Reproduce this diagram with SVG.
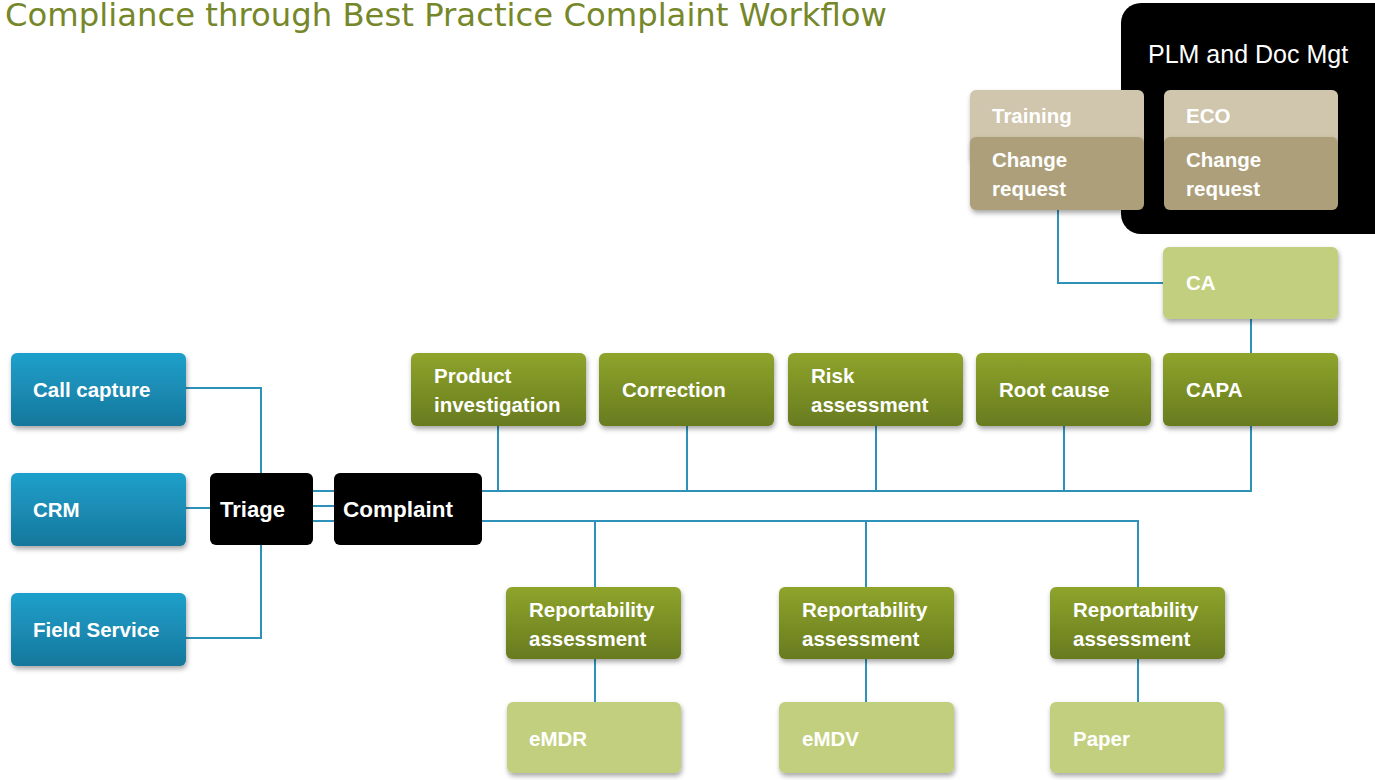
<svg xmlns="http://www.w3.org/2000/svg" width="1375" height="780" viewBox="0 0 1375 780">
<defs>
<linearGradient id="gGreen" x1="0" y1="0" x2="0" y2="1">
<stop offset="0" stop-color="#8ea42b"/><stop offset="1" stop-color="#687b1f"/>
</linearGradient>
<linearGradient id="gBlue" x1="0" y1="0" x2="0" y2="1">
<stop offset="0" stop-color="#1fa0cb"/><stop offset="1" stop-color="#16779c"/>
</linearGradient>
<filter id="sh" x="-10%" y="-10%" width="125%" height="135%">
<feDropShadow dx="1" dy="3" stdDeviation="2.5" flood-color="#000" flood-opacity="0.35"/>
</filter>
</defs>
<style>
.t{font-family:"Liberation Sans",Arial,sans-serif;font-weight:bold;font-size:20.5px;fill:#fff}
.green{fill:url(#gGreen);filter:url(#sh)}
.blue{fill:url(#gBlue);filter:url(#sh)}
.light{fill:#c2cf7e;filter:url(#sh)}
.tan1{fill:#cfc6ad;filter:url(#sh)}
.tan2{fill:#ad9f7a;filter:url(#sh)}
.blk{fill:#000}
.c{fill:none;stroke:#2e92b8;stroke-width:2}
</style>
<rect width="1375" height="780" fill="#fff"/>
<text x="5" y="26" font-family="'DejaVu Sans','Liberation Sans',sans-serif" font-size="32" fill="#76872a" textLength="882" lengthAdjust="spacingAndGlyphs">Compliance through Best Practice Complaint Workflow</text>

<g id="plm">
<rect x="1121" y="3" width="280" height="231" rx="20" class="blk"/>
<text x="1148" y="63" font-family="'Liberation Sans',Arial,sans-serif" font-size="25" fill="#fff">PLM and Doc Mgt</text>
</g>

<g id="connectors">
<polyline class="c" points="186,388 261,388 261,473"/>
<polyline class="c" points="186,508 210,508"/>
<polyline class="c" points="186,638 261,638 261,545"/>
<line class="c" x1="313" y1="491" x2="334" y2="491"/>
<line class="c" x1="313" y1="506" x2="334" y2="506"/>
<line class="c" x1="313" y1="521" x2="334" y2="521"/>
<polyline class="c" points="482,491 1251,491 1251,426"/>
<line class="c" x1="498" y1="426" x2="498" y2="491"/>
<line class="c" x1="687" y1="426" x2="687" y2="491"/>
<line class="c" x1="876" y1="426" x2="876" y2="491"/>
<line class="c" x1="1064" y1="426" x2="1064" y2="491"/>
<line class="c" x1="1251" y1="319" x2="1251" y2="353"/>
<polyline class="c" points="1058,210 1058,283 1163,283"/>
<polyline class="c" points="482,521 1138,521 1138,587"/>
<line class="c" x1="595" y1="521" x2="595" y2="587"/>
<line class="c" x1="866" y1="521" x2="866" y2="587"/>
<line class="c" x1="595" y1="659" x2="595" y2="702"/>
<line class="c" x1="866" y1="659" x2="866" y2="702"/>
<line class="c" x1="1138" y1="659" x2="1138" y2="702"/>
</g>

<g id="training">
<rect x="970" y="90" width="174" height="72" rx="6" class="tan1"/>
<text x="992" y="123" class="t">Training</text>
</g>
<g id="cr1">
<rect x="970" y="137" width="174" height="73" rx="6" class="tan2"/>
<text x="992" y="167" class="t">Change</text>
<text x="992" y="196" class="t">request</text>
</g>
<g id="eco">
<rect x="1164" y="90" width="174" height="72" rx="6" class="tan1"/>
<text x="1186" y="123" class="t">ECO</text>
</g>
<g id="cr2">
<rect x="1164" y="137" width="174" height="73" rx="6" class="tan2"/>
<text x="1186" y="167" class="t">Change</text>
<text x="1186" y="196" class="t">request</text>
</g>
<g id="ca">
<rect x="1163" y="247" width="175" height="72" rx="6" class="light"/>
<text x="1186" y="290" class="t">CA</text>
</g>

<g id="callcapture">
<rect x="11" y="353" width="175" height="73" rx="6" class="blue"/>
<text x="33" y="397" class="t">Call capture</text>
</g>
<g id="crm">
<rect x="11" y="473" width="175" height="73" rx="6" class="blue"/>
<text x="33" y="517" class="t">CRM</text>
</g>
<g id="fieldservice">
<rect x="11" y="593" width="175" height="73" rx="6" class="blue"/>
<text x="33" y="637" class="t">Field Service</text>
</g>

<g id="triage">
<rect x="210" y="473" width="103" height="72" rx="6" class="blk"/>
<text x="220" y="517" class="t" style="font-size:22px" textLength="65" lengthAdjust="spacingAndGlyphs">Triage</text>
</g>
<g id="complaint">
<rect x="334" y="473" width="148" height="72" rx="6" class="blk"/>
<text x="343" y="517" class="t" style="font-size:22px" textLength="110" lengthAdjust="spacingAndGlyphs">Complaint</text>
</g>

<g id="productinvestigation">
<rect x="411" y="353" width="175" height="73" rx="6" class="green"/>
<text x="434" y="383" class="t">Product</text>
<text x="434" y="412" class="t">investigation</text>
</g>
<g id="correction">
<rect x="599" y="353" width="175" height="73" rx="6" class="green"/>
<text x="622" y="397" class="t">Correction</text>
</g>
<g id="risk">
<rect x="788" y="353" width="175" height="73" rx="6" class="green"/>
<text x="811" y="383" class="t">Risk</text>
<text x="811" y="412" class="t">assessment</text>
</g>
<g id="rootcause">
<rect x="976" y="353" width="175" height="73" rx="6" class="green"/>
<text x="999" y="397" class="t">Root cause</text>
</g>
<g id="capa">
<rect x="1163" y="353" width="175" height="73" rx="6" class="green"/>
<text x="1186" y="397" class="t">CAPA</text>
</g>

<g id="ra1">
<rect x="506" y="587" width="175" height="72" rx="6" class="green"/>
<text x="529" y="617" class="t">Reportability</text>
<text x="529" y="646" class="t">assessment</text>
</g>
<g id="ra2">
<rect x="779" y="587" width="175" height="72" rx="6" class="green"/>
<text x="802" y="617" class="t">Reportability</text>
<text x="802" y="646" class="t">assessment</text>
</g>
<g id="ra3">
<rect x="1050" y="587" width="175" height="72" rx="6" class="green"/>
<text x="1073" y="617" class="t">Reportability</text>
<text x="1073" y="646" class="t">assessment</text>
</g>
<g id="emdr">
<rect x="507" y="702" width="174" height="71" rx="6" class="light"/>
<text x="529" y="746" class="t">eMDR</text>
</g>
<g id="emdv">
<rect x="779" y="702" width="175" height="71" rx="6" class="light"/>
<text x="802" y="746" class="t">eMDV</text>
</g>
<g id="paper">
<rect x="1050" y="702" width="174" height="71" rx="6" class="light"/>
<text x="1073" y="746" class="t">Paper</text>
</g>
</svg>
